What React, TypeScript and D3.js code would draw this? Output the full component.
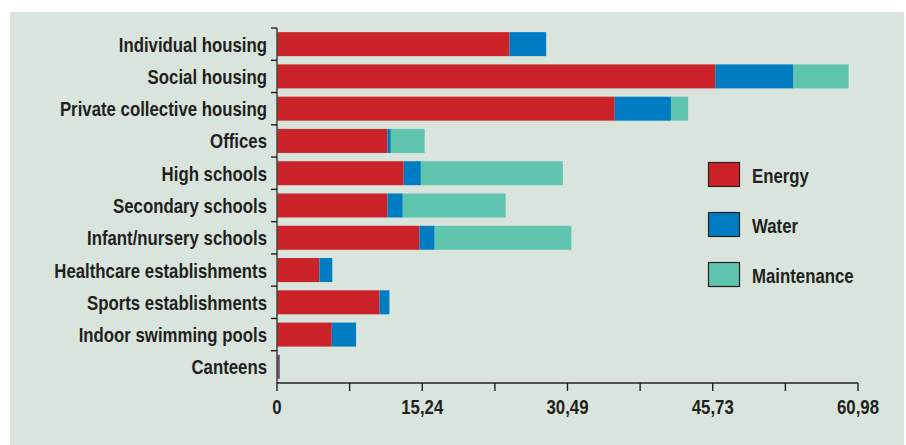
import React from "react";
import * as d3 from "d3";

const categories = [
  "Individual housing",
  "Social housing",
  "Private collective housing",
  "Offices",
  "High schools",
  "Secondary schools",
  "Infant/nursery schools",
  "Healthcare establishments",
  "Sports establishments",
  "Indoor swimming pools",
  "Canteens",
];
const energy = [24.4, 46.0, 35.45, 11.6, 13.3, 11.6, 14.95, 4.45, 10.75, 5.75, 0.2];
const water = [3.85, 8.2, 5.9, 0.35, 1.8, 1.6, 1.6, 1.35, 1.05, 2.55, 0.1];
const maintenance = [0, 5.8, 1.8, 3.55, 14.9, 10.8, 14.35, 0, 0, 0, 0];
const seriesNames = ["Energy", "Water", "Maintenance"];
const seriesColors = ["#cc232a", "#007cc3", "#60c5ae"];
const tickValues = [0, 15.245, 30.49, 45.735, 60.98];
const tickLabels = ["0", "15,24", "30,49", "45,73", "60,98"];

const W = 906;
const H = 445;
const FONT = "'Liberation Sans', Arial, sans-serif";
const TXT = "#231f20";
const SX = 0.84;

function CText({ x, y, anchor, children }: { x: number; y: number; anchor: string; children: any }) {
  return (
    <text
      transform={`translate(${x},${y}) scale(${SX},1)`}
      textAnchor={anchor}
      fontSize={20}
      fontWeight="bold"
      fill={TXT}
    >
      {children}
    </text>
  );
}

export default function App() {
  const x = d3.scaleLinear().domain([0, 60.98]).range([277, 858]);
  const y = d3.scaleBand<string>().domain(categories).range([28, 383]).padding(0);
  const barH = 24;
  const inset = (y.bandwidth() - barH) / 2;

  const rows = categories.map((c, i) => ({
    cat: c,
    Energy: energy[i],
    Water: water[i],
    Maintenance: maintenance[i],
  }));
  const stacked = d3.stack<any>().keys(seriesNames)(rows);

  const minor = d3.range(0, tickValues.length - 1).map(
    (i) => (tickValues[i] + tickValues[i + 1]) / 2
  );
  const allTicks = [...tickValues, ...minor];
  const bounds = categories.map((c) => y(c)!);

  return (
    <div style={{ position: "absolute", left: 0, top: 0 }}>
      <svg width={W} height={H} style={{ display: "block" }} fontFamily={FONT}>
        <rect x={0} y={0} width={W} height={H} fill="#ffffff" />
        <rect x={10} y={12} width={894} height={H - 12} fill="#d9e5dc" />

        {stacked.map((s, si) => (
          <g key={s.key} fill={seriesColors[si]}>
            {s.map((d, i) =>
              d[1] - d[0] > 0 ? (
                <rect
                  key={i}
                  x={x(d[0])}
                  y={y(categories[i])! + inset}
                  width={x(d[1]) - x(d[0])}
                  height={barH}
                />
              ) : null
            )}
          </g>
        ))}

        {/* y axis */}
        <line x1={277} x2={277} y1={y.range()[0]} y2={y.range()[1]} stroke="#4a4a4a" strokeWidth={1.6} />
        {bounds.map((b, i) => (
          <line key={i} x1={271} x2={277} y1={b} y2={b} stroke="#231f20" strokeWidth={1.4} />
        ))}
        {categories.map((c) => (
          <CText key={c} x={267} y={y(c)! + y.bandwidth() / 2 + 7.5} anchor="end">
            {c}
          </CText>
        ))}

        {/* x axis */}
        <line x1={x(0)} x2={x(60.98)} y1={383} y2={383} stroke="#231f20" strokeWidth={1.4} />
        {allTicks.map((t, i) => (
          <line key={i} x1={x(t)} x2={x(t)} y1={383} y2={391} stroke="#231f20" strokeWidth={1.4} />
        ))}
        {tickValues.map((t, i) => (
          <CText key={i} x={x(t)} y={414} anchor="middle">
            {tickLabels[i]}
          </CText>
        ))}

        {/* legend */}
        {seriesNames.map((n, i) => (
          <g key={n} transform={`translate(708, ${162 + i * 50})`}>
            <rect x={0.5} y={0.5} width={31} height={24} fill={seriesColors[i]} stroke="#231f20" strokeWidth={1.2} />
            <CText x={44} y={21} anchor="start">
              {n}
            </CText>
          </g>
        ))}
      </svg>
    </div>
  );
}
